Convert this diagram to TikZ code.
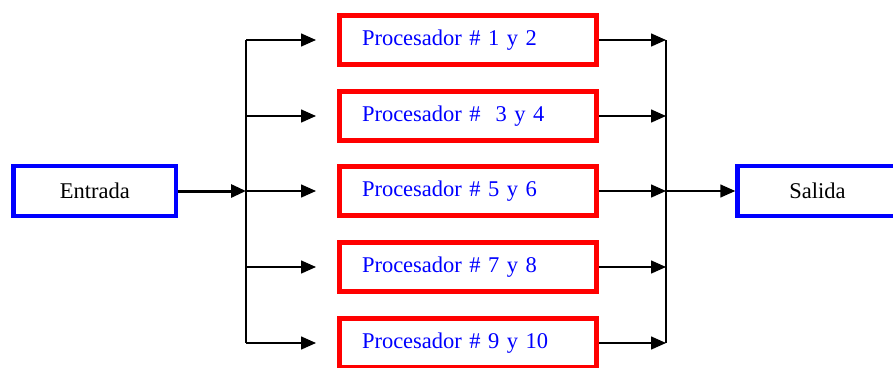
\documentclass[tikz,border=0pt]{standalone}
\usepackage{fontspec}
\setmainfont{Liberation Serif}
\usetikzlibrary{arrows.meta}
\begin{document}
\begin{tikzpicture}[x=1pt,y=-1pt,
  proc/.style={draw=red, line width=5pt, minimum width=257pt, minimum height=49pt,
    text width=212pt, align=left, inner xsep=22.5pt, text=blue,
    font=\fontsize{22.5}{26}\selectfont},
  io/.style={draw=blue, line width=4.5pt, minimum height=50pt, inner sep=0pt,
    font=\fontsize{22.5}{26}\selectfont},
  wire/.style={line width=1.5pt},
  arr/.style={wire, -{Triangle[length=15pt,width=13pt]}},
  thickarr/.style={line width=3pt, -{Triangle[length=15pt,width=13pt]}}]
\useasboundingbox (0,0) rectangle (893,367);
\clip (0,0) rectangle (893,367);
\node[io, minimum width=162.5pt] (in) at (94.75,191) {Entrada};
\node[io, minimum width=160pt] (out) at (817.5,191) {Salida};
\node[proc] (p1) at (468,40) {Procesador \# 1 y 2};
\node[proc] (p2) at (468,116) {Procesador \#\ \ 3 y 4};
\node[proc] (p3) at (468,191) {Procesador \# 5 y 6};
\node[proc] (p4) at (468,267) {Procesador \# 7 y 8};
\node[proc] (p5) at (468,343) {Procesador \# 9 y 10};
\foreach \i/\y in {1/40,2/116,3/191,4/267,5/343}{
  \coordinate (lb\i) at (246,\y);
  \coordinate (lt\i) at (316,\y);
  \coordinate (rb\i) at (666,\y);
}
\draw[wire] (lb1) -- (lb5);
\draw[wire] (rb1) -- (rb5);
\draw[thickarr] (in.east) -- (lb3);
\foreach \i in {1,...,5}{
  \draw[arr] (lb\i) -- (lt\i);
  \draw[arr] (p\i.east) -- (rb\i);
}
\draw[arr] (rb3) -- (out.west);
\end{tikzpicture}
\end{document}
